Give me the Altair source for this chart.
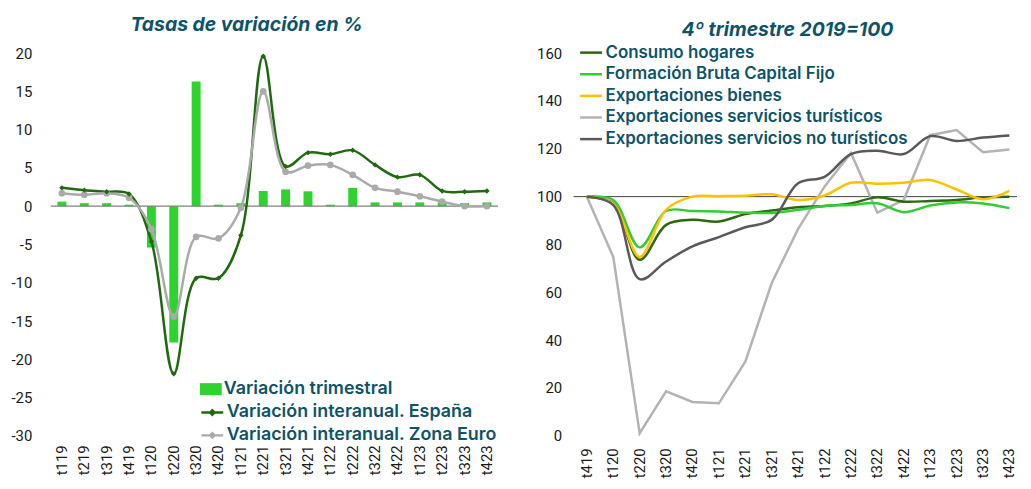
import altair as alt
import pandas as pd

# ---------------- data: left panel ----------------
trimestres_izq = ["t119", "t219", "t319", "t419", "t120", "t220", "t320", "t420",
                  "t121", "t221", "t321", "t421", "t122", "t222", "t322", "t422",
                  "t123", "t223", "t323", "t423"]
var_trimestral = [0.6, 0.4, 0.4, 0.2, -5.4, -17.8, 16.3, 0.2, 0.4, 2.0,
                  2.2, 1.95, 0.2, 2.4, 0.5, 0.5, 0.5, 0.5, 0.4, 0.5]
interanual_espana = [2.4, 2.1, 1.9, 1.6, -4.6, -21.9, -9.4, -9.4, -3.8, 19.6,
                     5.2, 7.0, 6.8, 7.3, 5.4, 3.8, 4.1, 2.0, 1.9, 2.0]
interanual_zona_euro = [1.7, 1.5, 1.7, 1.1, -3.0, -14.4, -4.0, -4.2, -0.2, 15.0,
                        4.5, 5.3, 5.4, 4.1, 2.4, 1.9, 1.3, 0.6, 0.0, 0.0]
series_izq = ["Variación trimestral", "Variación interanual. España",
              "Variación interanual. Zona Euro"]
ticks_izq = [-30, -25, -20, -15, -10, -5, 0, 5, 10, 15, 20]

# ---------------- data: right panel ----------------
trimestres_der = ["t419", "t120", "t220", "t320", "t420", "t121", "t221", "t321",
                  "t421", "t122", "t222", "t322", "t422", "t123", "t223", "t323", "t423"]
consumo_hogares = [100, 97.2, 73.6, 88.2, 90.3, 89.6, 92.7, 94.2, 95.6, 96.1,
                   97.2, 99.7, 97.9, 98.2, 98.6, 99.7, 100.0]
fbcf = [100, 98.6, 78.8, 94.0, 94.0, 93.8, 93.3, 93.2, 94.5, 96.1,
        96.5, 97.2, 93.5, 96.3, 97.6, 97.1, 95.2]
export_bienes = [100, 97.0, 74.8, 94.5, 100.0, 100.2, 100.4, 101.0, 98.6, 100.5,
                 105.8, 105.4, 105.8, 107.0, 103.0, 98.9, 102.4]
export_turisticos = [100, 74.8, 1.1, 18.6, 14.2, 13.6, 31.0, 63.9, 86.5, 104.2,
                     118.3, 93.3, 98.6, 125.7, 127.8, 118.6, 119.7]
export_no_turisticos = [100, 96.5, 65.5, 72.9, 79.2, 83.1, 87.2, 90.3, 105.6, 108.3,
                        117.8, 119.2, 117.8, 125.3, 123.3, 124.7, 125.6]
series_der = ["Consumo hogares", "Formación Bruta Capital Fijo", "Exportaciones bienes",
              "Exportaciones servicios turísticos", "Exportaciones servicios no turísticos"]
colores_der = ["#2b6a0c", "#33cc33", "#ffc000", "#b3b3b3", "#595959"]
ticks_der = [0, 20, 40, 60, 80, 100, 120, 140, 160]

TEAL = "#0e5468"
TXT_FONT = "Inter"
TICK_FONT = "Roboto"
BAR_GREEN = "#2fd32f"
DARK_GREEN = "#1f6a10"
LIGHT_GRAY = "#aaaaaa"

# ---------------- left panel ----------------
df_bar = pd.DataFrame({"q": trimestres_izq, "v": var_trimestral, "s": series_izq[0]})
df_esp = pd.DataFrame({"q": trimestres_izq, "v": interanual_espana, "s": series_izq[1]})
df_ze = pd.DataFrame({"q": trimestres_izq, "v": interanual_zona_euro, "s": series_izq[2]})
df_lines_l = pd.concat([df_esp, df_ze])
df_zero = pd.DataFrame({"v": [0]})

x_l = alt.X("q:N", sort=trimestres_izq,
            scale=alt.Scale(type="band", paddingInner=0, paddingOuter=0),
            axis=alt.Axis(title=None, labelAngle=270, labelPadding=9))
y_l = alt.Y("v:Q", scale=alt.Scale(domain=[-30, 20], nice=False),
            axis=alt.Axis(title=None, values=ticks_izq, labelPadding=19,
                          labelOverlap=False, labelExpr="toString(datum.value)"))

bars = alt.Chart(df_bar).mark_bar(width=alt.RelativeBandSize(0.4)).encode(
    x=x_l, y=y_l,
    fill=alt.Fill("s:N", scale=alt.Scale(domain=[series_izq[0]], range=[BAR_GREEN]),
                  legend=alt.Legend(title=None, orient="none", legendX=150, legendY=327,
                                    symbolType="M-1,-0.55H1V0.55H-1Z", symbolSize=484,
                                    symbolStrokeWidth=0, labelFontSize=18)))

zero_rule = alt.Chart(df_zero).mark_rule(color="#808080", strokeWidth=1.3).encode(y=y_l)

lines_l = alt.Chart(df_lines_l).mark_line(interpolate="catmull-rom", strokeWidth=2.5).encode(
    x=x_l, y=y_l,
    stroke=alt.Stroke("s:N", scale=alt.Scale(domain=series_izq[1:], range=[DARK_GREEN, LIGHT_GRAY]),
                      legend=alt.Legend(title=None, orient="none", legendX=150, legendY=349,
                                        symbolType="M-1,0H1M-0.2,0L0,-0.2L0.2,0L0,0.2Z",
                                        symbolSize=484, symbolStrokeWidth=2.5,
                                        labelFontSize=18, rowPadding=1)))

pts_esp = alt.Chart(df_esp).mark_point(shape="diamond", filled=True, size=30,
                                       color=DARK_GREEN, opacity=1).encode(x=x_l, y=y_l)
pts_ze = alt.Chart(df_ze).mark_point(shape="circle", filled=True, size=45,
                                     color=LIGHT_GRAY, opacity=1).encode(x=x_l, y=y_l)

left = alt.layer(bars, zero_rule, lines_l, pts_ze, pts_esp).properties(
    width=450, height=385,
    title=alt.TitleParams("Tasas de variación en %", font=TXT_FONT, fontSize=19.5,
                          fontWeight="bold", fontStyle="italic", color=TEAL,
                          anchor="middle", frame="group", dx=-28, offset=11))

# ---------------- right panel ----------------
valores_der = [consumo_hogares, fbcf, export_bienes, export_turisticos, export_no_turisticos]
df_r = pd.concat([pd.DataFrame({"q": trimestres_der, "v": vals, "s": name})
                  for name, vals in zip(series_der, valores_der)])
df_smooth = df_r[df_r["s"] != series_der[3]]
df_tur = df_r[df_r["s"] == series_der[3]]
df_cien = pd.DataFrame({"v": [100]})

x_r = alt.X("q:N", sort=trimestres_der,
            scale=alt.Scale(type="band", paddingInner=0, paddingOuter=0, range=[0, 451.6]),
            axis=alt.Axis(title=None, labelAngle=270, labelPadding=12))
y_r = alt.Y("v:Q", scale=alt.Scale(domain=[0, 160], nice=False),
            axis=alt.Axis(title=None, values=ticks_der, labelPadding=12,
                          labelOverlap=False))
stroke_r = alt.Stroke("s:N", scale=alt.Scale(domain=series_der, range=colores_der),
                      legend=alt.Legend(title=None, orient="none", legendX=5, legendY=-13,
                                        symbolType="M-1,0H1", symbolSize=484,
                                        symbolStrokeWidth=2.5, labelFontSize=17,
                                        rowPadding=0.75))

rule100 = alt.Chart(df_cien).mark_rule(color="#404040", strokeWidth=1).encode(y=y_r)
smooth = alt.Chart(df_smooth).mark_line(interpolate="catmull-rom", strokeWidth=2.5).encode(
    x=x_r, y=y_r, stroke=stroke_r)
tur = alt.Chart(df_tur).mark_line(interpolate="linear", strokeWidth=2.5).encode(
    x=x_r, y=y_r, stroke=stroke_r)

right = alt.layer(rule100, tur, smooth).properties(
    width=446, height=385,
    title=alt.TitleParams("4º trimestre 2019=100", font=TXT_FONT, fontSize=19.5,
                          fontWeight="bold", fontStyle="italic", color=TEAL,
                          anchor="middle", frame="group", dx=-8, offset=0))

chart = alt.hconcat(left, right, spacing=37).resolve_scale(
    stroke="independent", fill="independent", x="independent", y="independent"
).resolve_legend(stroke="independent", fill="independent").properties(
    padding={"left": 2, "top": 5, "right": 0, "bottom": 0}
).configure_view(stroke=None).configure_axis(
    ticks=False, domain=False, grid=False, labelFont=TICK_FONT, labelFontSize=15,
    labelColor="#1a1a1a"
).configure_legend(
    labelFont=TXT_FONT, labelFontWeight=600, labelColor=TEAL, padding=0, labelOffset=2,
    labelLimit=500
)

chart.save("out.html", embed_options={"renderer": "svg", "actions": False})
